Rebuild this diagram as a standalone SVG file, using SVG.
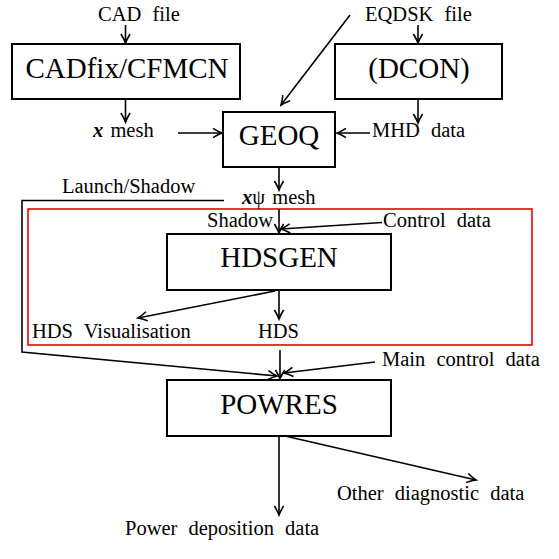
<svg xmlns="http://www.w3.org/2000/svg" width="559" height="559" viewBox="0 0 559 559">
<style>
.box{fill:none;stroke:#000;stroke-width:2}
.big{font-family:"Liberation Serif","Times New Roman",serif;font-size:29px;text-anchor:middle;fill:#000}
.lbl{font-family:"Liberation Serif","Times New Roman",serif;font-size:20.5px;word-spacing:6px;fill:#000}
.tight{word-spacing:2px}
.c{fill:none;stroke:#000;stroke-width:1.6}
.bx{font-weight:bold;font-style:italic}
</style>
<defs>
<marker id="ah" viewBox="-11 -6 13 12" refX="0" refY="0" markerWidth="13" markerHeight="12" orient="auto" markerUnits="userSpaceOnUse">
<path d="M-9,-4.6 Q-3.5,-1.2 0,0 Q-3.5,1.2 -9,4.6" fill="none" stroke="#000" stroke-width="1.6"/>
</marker>
</defs>
<rect x="0" y="0" width="559" height="559" fill="#fff"/>
<g id="region-hds">
<rect x="28" y="209" width="504" height="136" fill="none" stroke="#e00" stroke-width="1.6"/>
</g>
<g id="connectors">
<line class="c" x1="125.5" y1="25" x2="125.5" y2="43" marker-end="url(#ah)"/>
<line class="c" x1="418" y1="25" x2="418" y2="43" marker-end="url(#ah)"/>
<line class="c" x1="125.5" y1="100" x2="125.5" y2="122" marker-end="url(#ah)"/>
<line class="c" x1="178" y1="133" x2="222" y2="133" marker-end="url(#ah)"/>
<line class="c" x1="418" y1="100" x2="418" y2="123" marker-end="url(#ah)"/>
<line class="c" x1="370" y1="133" x2="337" y2="133" marker-end="url(#ah)"/>
<line class="c" x1="350" y1="15" x2="281" y2="105" marker-end="url(#ah)"/>
<line class="c" x1="279" y1="167" x2="279" y2="190" marker-end="url(#ah)"/>
<polyline class="c" points="224,200.5 22,200.5 22,352 277,376" marker-end="url(#ah)"/>
<line class="c" x1="279" y1="209" x2="279" y2="233" marker-end="url(#ah)"/>
<line class="c" x1="382" y1="222.5" x2="281" y2="229" marker-end="url(#ah)"/>
<line class="c" x1="279" y1="290" x2="279" y2="319" marker-end="url(#ah)"/>
<line class="c" x1="275" y1="291" x2="138" y2="318" marker-end="url(#ah)"/>
<line class="c" x1="280" y1="350" x2="280" y2="379" marker-end="url(#ah)"/>
<line class="c" x1="375" y1="362" x2="284" y2="373" marker-end="url(#ah)"/>
<line class="c" x1="279" y1="436" x2="279" y2="515" marker-end="url(#ah)"/>
<line class="c" x1="285" y1="436" x2="476" y2="480" marker-end="url(#ah)"/>
</g>
<g id="cadfix">
<rect class="box" x="12" y="44" width="228" height="55"/>
<text class="big" x="127" y="78">CADfix/CFMCN</text>
</g>
<g id="dcon">
<rect class="box" x="335" y="44" width="167" height="55"/>
<text class="big" x="419" y="78">(DCON)</text>
</g>
<g id="geoq">
<rect class="box" x="223" y="112" width="112" height="55"/>
<text class="big" x="279" y="145">GEOQ</text>
</g>
<g id="hdsgen">
<rect class="box" x="167" y="234" width="224" height="56"/>
<text class="big" x="279" y="267">HDSGEN</text>
</g>
<g id="powres">
<rect class="box" x="167" y="380" width="224" height="56"/>
<text class="big" x="279" y="414">POWRES</text>
</g>
<g id="labels">
<text class="lbl" x="98" y="21">CAD file</text>
<text class="lbl" x="365" y="21">EQDSK file</text>
<text class="lbl tight" x="93" y="137"><tspan class="bx">x</tspan> mesh</text>
<text class="lbl" x="372" y="137">MHD data</text>
<text class="lbl" x="62" y="193">Launch/Shadow</text>
<text class="lbl tight" x="242" y="204"><tspan class="bx">x</tspan>ψ mesh</text>
<text class="lbl" x="207" y="227">Shadow</text>
<text class="lbl" x="383" y="227">Control data</text>
<text class="lbl" x="32" y="338">HDS Visualisation</text>
<text class="lbl" x="258" y="338">HDS</text>
<text class="lbl" x="382" y="366">Main control data</text>
<text class="lbl" x="337" y="500">Other diagnostic data</text>
<text class="lbl" x="125" y="535">Power deposition data</text>
</g>
</svg>
